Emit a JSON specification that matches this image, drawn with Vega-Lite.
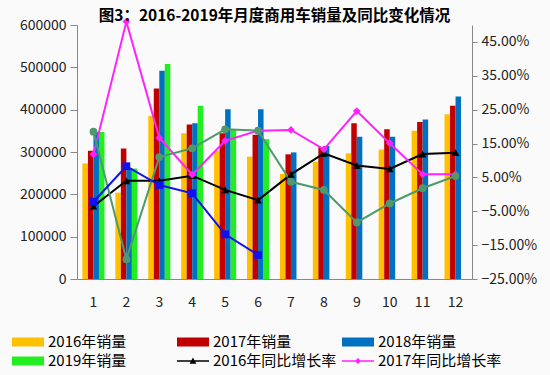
{
  "$schema": "https://vega.github.io/schema/vega-lite/v6.json",
  "width": 395,
  "height": 254,
  "autosize": {"type": "none"},
  "padding": {"left": 77, "top": 25, "right": 78, "bottom": 96},
  "background": "#fafafa",
  "title": {
    "text": "图3：2016-2019年月度商用车销量及同比变化情况",
    "font": "Noto Sans CJK SC",
    "fontSize": 15.5,
    "fontWeight": "bold",
    "color": "#000000",
    "anchor": "middle",
    "frame": "group",
    "offset": 2,
    "dy": 9
  },
  "config": {
    "view": {"stroke": null},
    "font": "Noto Sans CJK SC",
    "axis": {"grid": false, "labelFont": "Noto Sans CJK SC", "labelColor": "#222222", "domainColor": "#888888", "tickColor": "#888888", "labelOverlap": false, "domain": true}
  },
  "datasets": {
    "sales": [
      {"month": 1, "series": "2016年销量", "value": 273000},
      {"month": 2, "series": "2016年销量", "value": 204000},
      {"month": 3, "series": "2016年销量", "value": 385000},
      {"month": 4, "series": "2016年销量", "value": 344000},
      {"month": 5, "series": "2016年销量", "value": 303000},
      {"month": 6, "series": "2016年销量", "value": 289000},
      {"month": 7, "series": "2016年销量", "value": 248000},
      {"month": 8, "series": "2016年销量", "value": 277000},
      {"month": 9, "series": "2016年销量", "value": 297000},
      {"month": 10, "series": "2016年销量", "value": 306000},
      {"month": 11, "series": "2016年销量", "value": 350000},
      {"month": 12, "series": "2016年销量", "value": 389000},
      {"month": 1, "series": "2017年销量", "value": 303000},
      {"month": 2, "series": "2017年销量", "value": 308000},
      {"month": 3, "series": "2017年销量", "value": 450000},
      {"month": 4, "series": "2017年销量", "value": 365000},
      {"month": 5, "series": "2017年销量", "value": 344000},
      {"month": 6, "series": "2017年销量", "value": 341000},
      {"month": 7, "series": "2017年销量", "value": 294500},
      {"month": 8, "series": "2017年销量", "value": 311000},
      {"month": 9, "series": "2017年销量", "value": 368000},
      {"month": 10, "series": "2017年销量", "value": 353500},
      {"month": 11, "series": "2017年销量", "value": 371000},
      {"month": 12, "series": "2017年销量", "value": 409000},
      {"month": 1, "series": "2018年销量", "value": 347000},
      {"month": 2, "series": "2018年销量", "value": 262000},
      {"month": 3, "series": "2018年销量", "value": 492000},
      {"month": 4, "series": "2018年销量", "value": 368000},
      {"month": 5, "series": "2018年销量", "value": 401000},
      {"month": 6, "series": "2018年销量", "value": 401000},
      {"month": 7, "series": "2018年销量", "value": 299000},
      {"month": 8, "series": "2018年销量", "value": 314000},
      {"month": 9, "series": "2018年销量", "value": 336000},
      {"month": 10, "series": "2018年销量", "value": 336000},
      {"month": 11, "series": "2018年销量", "value": 377000},
      {"month": 12, "series": "2018年销量", "value": 431000},
      {"month": 1, "series": "2019年销量", "value": 347000},
      {"month": 2, "series": "2019年销量", "value": 261000},
      {"month": 3, "series": "2019年销量", "value": 508000},
      {"month": 4, "series": "2019年销量", "value": 409000},
      {"month": 5, "series": "2019年销量", "value": 353000},
      {"month": 6, "series": "2019年销量", "value": 330000}
    ],
    "growth": [
      {"month": 1, "series": "2016年同比增长率", "rate": -0.035},
      {"month": 2, "series": "2016年同比增长率", "rate": 0.04},
      {"month": 3, "series": "2016年同比增长率", "rate": 0.04},
      {"month": 4, "series": "2016年同比增长率", "rate": 0.055},
      {"month": 5, "series": "2016年同比增长率", "rate": 0.013},
      {"month": 6, "series": "2016年同比增长率", "rate": -0.017},
      {"month": 7, "series": "2016年同比增长率", "rate": 0.059},
      {"month": 8, "series": "2016年同比增长率", "rate": 0.121},
      {"month": 9, "series": "2016年同比增长率", "rate": 0.085},
      {"month": 10, "series": "2016年同比增长率", "rate": 0.075},
      {"month": 11, "series": "2016年同比增长率", "rate": 0.119},
      {"month": 12, "series": "2016年同比增长率", "rate": 0.123},
      {"month": 1, "series": "2017年同比增长率", "rate": 0.118},
      {"month": 2, "series": "2017年同比增长率", "rate": 0.51},
      {"month": 3, "series": "2017年同比增长率", "rate": 0.167},
      {"month": 4, "series": "2017年同比增长率", "rate": 0.058},
      {"month": 5, "series": "2017年同比增长率", "rate": 0.158},
      {"month": 6, "series": "2017年同比增长率", "rate": 0.188},
      {"month": 7, "series": "2017年同比增长率", "rate": 0.19},
      {"month": 8, "series": "2017年同比增长率", "rate": 0.133},
      {"month": 9, "series": "2017年同比增长率", "rate": 0.246},
      {"month": 10, "series": "2017年同比增长率", "rate": 0.151},
      {"month": 11, "series": "2017年同比增长率", "rate": 0.059},
      {"month": 12, "series": "2017年同比增长率", "rate": 0.059},
      {"month": 1, "series": "2018年同比增长率", "rate": 0.185},
      {"month": 2, "series": "2018年同比增长率", "rate": -0.192},
      {"month": 3, "series": "2018年同比增长率", "rate": 0.11},
      {"month": 4, "series": "2018年同比增长率", "rate": 0.136},
      {"month": 5, "series": "2018年同比增长率", "rate": 0.192},
      {"month": 6, "series": "2018年同比增长率", "rate": 0.188},
      {"month": 7, "series": "2018年同比增长率", "rate": 0.037},
      {"month": 8, "series": "2018年同比增长率", "rate": 0.013},
      {"month": 9, "series": "2018年同比增长率", "rate": -0.083},
      {"month": 10, "series": "2018年同比增长率", "rate": -0.027},
      {"month": 11, "series": "2018年同比增长率", "rate": 0.018},
      {"month": 12, "series": "2018年同比增长率", "rate": 0.054},
      {"month": 1, "series": "2019年同比增长率", "rate": -0.022},
      {"month": 2, "series": "2019年同比增长率", "rate": 0.083},
      {"month": 3, "series": "2019年同比增长率", "rate": 0.0275},
      {"month": 4, "series": "2019年同比增长率", "rate": 0.003},
      {"month": 5, "series": "2019年同比增长率", "rate": -0.118},
      {"month": 6, "series": "2019年同比增长率", "rate": -0.179}
    ]
  },
  "layer": [
    {
      "data": {"name": "sales"},
      "mark": {"type": "bar"},
      "encoding": {
        "x": {
          "field": "month",
          "type": "ordinal",
          "scale": {"paddingInner": 0.33, "paddingOuter": 0.165},
          "axis": {"title": null, "labelAngle": 0, "labelFontSize": 14, "ticks": false, "labelPadding": 16, "domainColor": "#888888"}
        },
        "xOffset": {
          "field": "series",
          "type": "nominal",
          "scale": {"domain": ["2016年销量", "2017年销量", "2018年销量", "2019年销量"], "paddingInner": 0, "paddingOuter": 0}
        },
        "y": {
          "field": "value",
          "type": "quantitative",
          "scale": {"domain": [0, 600000], "nice": false},
          "axis": {"title": null, "orient": "left", "values": [0, 100000, 200000, 300000, 400000, 500000, 600000], "format": "d", "labelFontSize": 14, "tickSize": 7, "labelPadding": 4, "labelOverlap": false}
        },
        "color": {
          "field": "series",
          "type": "nominal",
          "scale": {
            "domain": ["2016年销量", "2017年销量", "2018年销量", "2019年销量", "2016年同比增长率", "2017年同比增长率", "2018年同比增长率", "2019年同比增长率"],
            "range": ["#FFC000", "#C00000", "#0070C0", "#22EE22", "#000000", "#FF22FF", "#4E9A6C", "#1010F0"]
          },
          "legend": {
            "values": ["2016年销量", "2017年销量", "2018年销量", "2019年销量", "2016年同比增长率", "2017年同比增长率"],
            "title": null,
            "orient": "none",
            "direction": "horizontal",
            "legendX": -65,
            "legendY": 309,
            "columns": 3,
            "gridAlign": "all",
            "columnPadding": 5,
            "rowPadding": 3,
            "clipHeight": 16,
            "padding": 0,
            "symbolSize": 1024,
            "symbolStrokeWidth": 0,
            "labelFont": "Noto Sans CJK SC",
            "labelFontSize": 15,
            "labelColor": "#000000",
            "labelOffset": 4,
            "labelLimit": 200,
            "encode": {
              "symbols": {
                "update": {
                  "shape": {"signal": "datum.value === '2016年同比增长率' ? 'M-1,-0.04H1V0.04H-1ZM-0.21,0.17L0,-0.22L0.21,0.17Z' : datum.value === '2017年同比增长率' ? 'M-1,-0.04H1V0.04H-1ZM0,-0.19L0.19,0L0,0.19L-0.19,0Z' : 'M-1,-0.28H1V0.28H-1Z'"},
                  "fill": {"scale": "color", "field": "value"},
                  "stroke": {"value": "transparent"},
                  "opacity": {"value": 1}
                }
              }
            }
          }
        }
      }
    },
    {
      "data": {"name": "growth"},
      "layer": [
        {
          "mark": {"type": "line", "strokeWidth": 2},
          "encoding": {
            "x": {"field": "month", "type": "ordinal"},
            "y": {
              "field": "rate",
              "type": "quantitative",
              "scale": {"domain": [-0.25, 0.5], "nice": false},
              "axis": {"title": null, "orient": "right", "values": [-0.25, -0.15, -0.05, 0.05, 0.15, 0.25, 0.35, 0.45], "format": ".2%", "labelFontSize": 14, "tickSize": 5, "labelPadding": 4, "domain": true, "domainColor": "#888888", "labelOverlap": false, "labelBound": false}
            },
            "color": {"field": "series", "type": "nominal"}
          }
        },
        {
          "mark": {"type": "point", "filled": true, "opacity": 1, "size": 60},
          "encoding": {
            "x": {"field": "month", "type": "ordinal"},
            "y": {
              "field": "rate",
              "type": "quantitative",
              "axis": {"title": null, "orient": "right", "values": [-0.25, -0.15, -0.05, 0.05, 0.15, 0.25, 0.35, 0.45], "format": ".2%", "labelFontSize": 14, "tickSize": 5, "labelPadding": 4, "domain": true, "domainColor": "#888888", "labelOverlap": false, "labelBound": false}
            },
            "color": {"field": "series", "type": "nominal"},
            "shape": {
              "field": "series",
              "type": "nominal",
              "scale": {"domain": ["2016年同比增长率", "2017年同比增长率", "2018年同比增长率", "2019年同比增长率"], "range": ["triangle-up", "diamond", "circle", "square"]},
              "legend": null
            }
          }
        }
      ]
    }
  ],
  "resolve": {"scale": {"y": "independent"}}
}
